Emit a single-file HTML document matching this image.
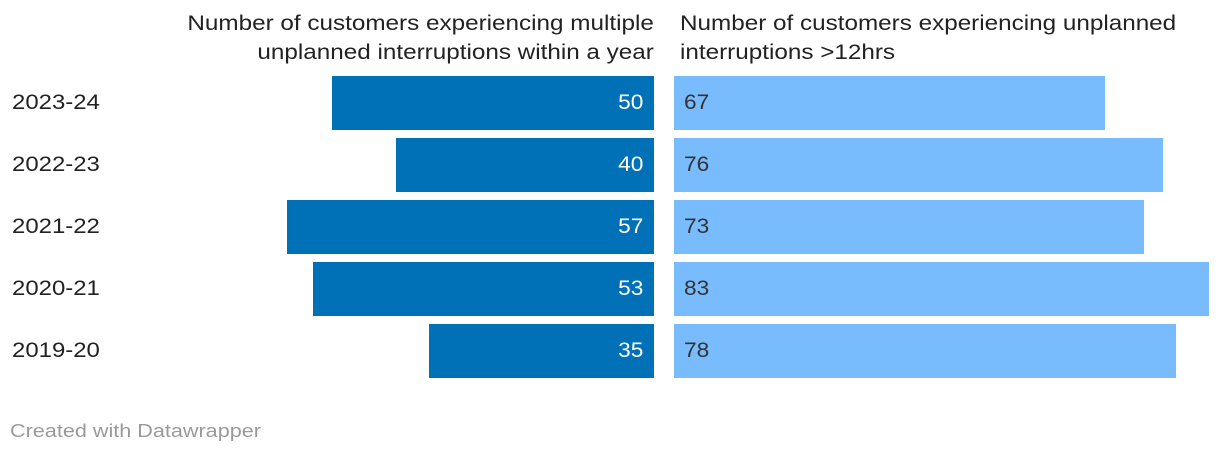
<!DOCTYPE html>
<html><head><meta charset="utf-8">
<style>
html,body{margin:0;padding:0;background:#fff;}
body{width:1220px;height:454px;position:relative;overflow:hidden;font-family:"Liberation Sans",Roboto,sans-serif;color:#222;}
.h{position:absolute;font-size:21px;line-height:29px;color:#222;white-space:nowrap;}
.yr{position:absolute;left:12px;font-size:21px;line-height:54px;color:#222;transform:scaleX(1.14);transform-origin:left center;}
.bar{position:absolute;height:54px;}
.v{position:absolute;font-size:21px;line-height:54px;transform:scaleX(1.08);}
.foot{position:absolute;left:10px;top:421px;font-size:18px;color:#9a9a9a;transform:scaleX(1.2);transform-origin:left center;}
</style></head><body>
<div class="h" style="right:566px;top:9px;text-align:right;transform:scaleX(1.155);transform-origin:right top;">Number of customers experiencing multiple<br>unplanned interruptions within a year</div>
<div class="h" style="left:680px;top:9px;transform:scaleX(1.155);transform-origin:left top;">Number of customers experiencing unplanned<br>interruptions &gt;12hrs</div>
<div id="chart"></div>
<div class="foot">Created with Datawrapper</div>
<script>
const years = ["2023-24","2022-23","2021-22","2020-21","2019-20"];
const multiple = [50,40,57,53,35];
const over12 = [67,76,73,83,78];
const scale = 6.44, mid = 654, rstart = 674, top0 = 76, pitch = 62;
const c = document.getElementById('chart');
function x(v){return v*scale;}
years.forEach((y,i)=>{
  const t = top0 + i*pitch;
  const yl = document.createElement('div');
  yl.className='yr'; yl.style.top=t+'px'; yl.textContent=y;
  
  
  c.appendChild(yl);
  const lb = document.createElement('div');
  lb.className='bar'; lb.style.top=t+'px'; lb.style.left=(mid-x(multiple[i]))+'px'; lb.style.width=x(multiple[i])+'px'; lb.style.background='#0071b6';
  
  
  c.appendChild(lb);
  const lv = document.createElement('div');
  lv.className='v'; lv.style.top=t+'px'; lv.style.right=(1220-mid+11)+'px'; lv.style.color='#fff'; lv.style.transformOrigin='right center'; lv.textContent=multiple[i];
  
  
  c.appendChild(lv);
  const rb = document.createElement('div');
  rb.className='bar'; rb.style.top=t+'px'; rb.style.left=rstart+'px'; rb.style.width=x(over12[i])+'px'; rb.style.background='#78bcfe';
  
  
  c.appendChild(rb);
  const rv = document.createElement('div');
  rv.className='v'; rv.style.top=t+'px'; rv.style.left=(rstart+10)+'px'; rv.style.color='#333'; rv.style.transformOrigin='left center'; rv.textContent=over12[i];
  
  
  c.appendChild(rv);
});
</script>
</body></html>
